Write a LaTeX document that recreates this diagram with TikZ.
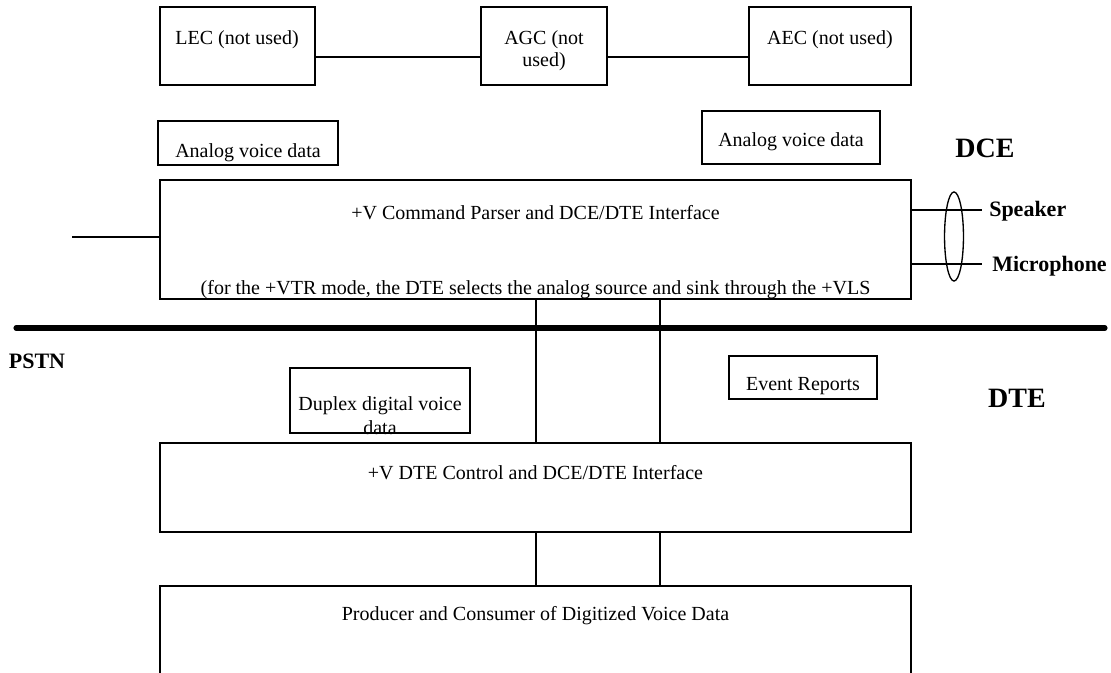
\documentclass[tikz,border=0pt]{standalone}
\usepackage{fontspec}
\setmainfont{Liberation Serif}
\usetikzlibrary{fit}
\begin{document}
\begin{tikzpicture}[x=0.75pt,y=-0.75pt,
  box/.style={draw,line width=1.3pt,inner sep=0pt},
  txt/.style={font=\fontsize{15}{16.5}\selectfont,align=center,inner sep=0pt},
  lbl/.style={font=\fontsize{16.5}{18}\selectfont\bfseries,inner sep=0pt},
  big/.style={font=\fontsize{21}{24}\selectfont\bfseries,inner sep=0pt},
  wire/.style={line width=1pt}]
\useasboundingbox (0,0) rectangle (1111,673);
\clip (0,0) rectangle (1111,673);
% DCE side
\node[box,fit={(160,7) (315,85)}] (lec) {};
\node[box,fit={(481,7) (607,85)}] (agc) {};
\node[box,fit={(749,7) (911,85)}] (aec) {};
\node[txt] (lect) at (237,40) {LEC (not used)};
\node[txt] (agct) at (544,51) {AGC (not\\used)};
\node[txt] (aect) at (830,40) {AEC (not used)};
\draw[wire] (lec.east |- 0,57) -- (agc.west |- 0,57);
\draw[wire] (agc.east |- 0,57) -- (aec.west |- 0,57);
\node[box,fit={(158,121) (338,165)}] (avl) {};
\node[txt] (avlt) at (248,153) {Analog voice data};
\node[box,fit={(702,111) (880,164)}] (avr) {};
\node[txt] (avrt) at (791,142) {Analog voice data};
\node[big] (dce) at (985,148) {DCE};
\node[box,fit={(160,180) (911,299)}] (cmd) {};
\node[txt] (cmdt) at (535.5,213) {+V Command Parser and DCE/DTE Interface};
\node[txt] (cmdn) at (535.5,290) {(for the +VTR mode, the DTE selects the analog source and sink through the +VLS};
\coordinate (pstnin) at (72,237);
\draw[wire] (pstnin) -- (pstnin -| cmd.west);
% speaker and microphone
\coordinate (spkend) at (982,210);
\coordinate (micend) at (982,264);
\draw[wire] (spkend -| cmd.east) -- (spkend);
\draw[wire] (micend -| cmd.east) -- (micend);
\draw[wire] (954,236.5) ellipse [x radius=7.1pt, y radius=33.4pt];
\node[lbl,anchor=west] (spk) at (989,211) {Speaker};
\node[lbl,anchor=west] (mic) at (992,266) {Microphone};
% PSTN line
\draw[line width=3.8pt,line cap=round] (16,328) -- (1105,328);
\node[lbl] (pstn) at (37,361) {PSTN};
% DTE side
\node[box,fit={(290,368) (470,433)}] (dup) {};
\node[txt] (dupt) at (380,415.5) {Duplex digital voice\\[2pt]data};
\node[box,fit={(729,356) (877,399)}] (evt) {};
\node[txt] (evtt) at (803,386) {Event Reports};
\node[big] (dte) at (1017,398) {DTE};
\node[box,fit={(160,443) (911,532)}] (ctl) {};
\node[txt] (ctlt) at (535.5,473) {+V DTE Control and DCE/DTE Interface};
\node[box,fit={(160,586) (911,690)}] (prod) {};
\node[txt] (prodt) at (535.5,616) {Producer and Consumer of Digitized Voice Data};
\foreach \x in {536,660} {
  \draw[wire] (\x,0 |- cmd.south) -- (\x,0 |- ctl.north);
  \draw[wire] (\x,0 |- ctl.south) -- (\x,0 |- prod.north);
}
\end{tikzpicture}
\end{document}
